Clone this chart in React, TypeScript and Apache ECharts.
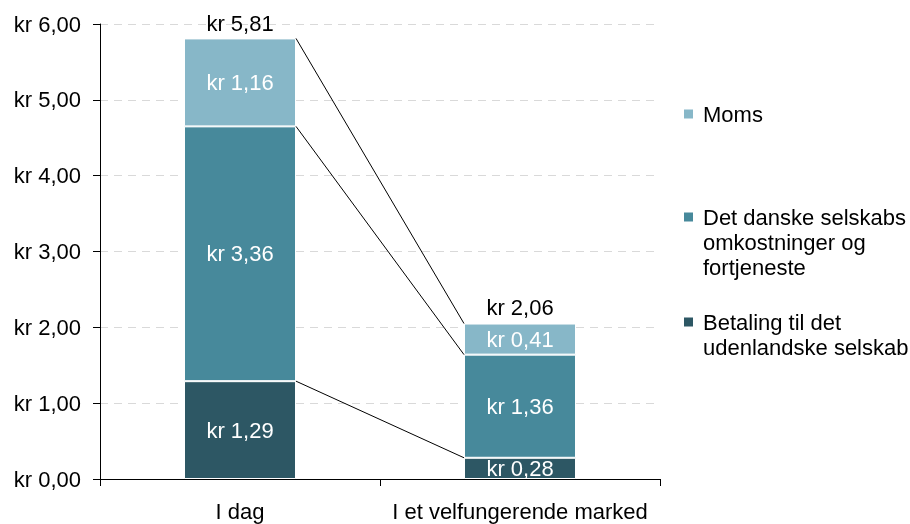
import React, { useEffect, useRef } from "react";
import * as echarts from "echarts";

const categories = ["I dag", "I et velfungerende marked"];
const seriesNames = [
  "Betaling til det udenlandske selskab",
  "Det danske selskabs omkostninger og fortjeneste",
  "Moms",
];
const legendLabels = [
  "Betaling til det\nudenlandske selskab",
  "Det danske selskabs\nomkostninger og\nfortjeneste",
  "Moms",
];
const foreignPayment = [1.29, 0.28];
const danishCosts = [3.36, 1.36];
const vat = [1.16, 0.41];
const totals = [5.81, 2.06];
const yTicks = { min: 0, max: 6, interval: 1 };

const colors = ["#2d5764", "#47899b", "#87b7c8"];
const FONT = "'Liberation Sans', Arial, sans-serif";
const FS = 22;
const LH = 25;

const fmt = (v: number) => "kr " + v.toFixed(2).replace(".", ",");

export default function App() {
  const ref = useRef<HTMLDivElement>(null);
  useEffect(() => {
    if (!ref.current) return;
    const chart = echarts.init(ref.current, undefined, { renderer: "svg" });
    const values = [foreignPayment, danishCosts, vat];
    const connectors: number[][] = [];
    let c0 = 0;
    let c1 = 0;
    values.forEach((arr) => {
      c0 += arr[0];
      c1 += arr[1];
      connectors.push([0, c0, c1]);
    });

    const barSeries = values.map((arr, i) => ({
      name: seriesNames[i],
      type: "bar",
      stack: "total",
      barWidth: "40%",
      data: arr,
      itemStyle: { color: colors[i], borderColor: "#ffffff", borderWidth: 1 },
      label: {
        show: true,
        position: "inside",
        color: "#ffffff",
        fontSize: FS,
        fontFamily: FONT,
        formatter: (p: any) => fmt(p.value),
      },
      z: 2,
    }));

    const legendTops = [284.5, 154.5, 101.5];
    const legends = seriesNames.map((name, i) => {
      const lines = legendLabels[i].split("\n").length;
      // prepend blank lines so that the first line is centred on the icon
      const text = "\n".repeat(lines - 1) + legendLabels[i];
      return {
        orient: "vertical",
        left: 682,
        top: legendTops[i],
        padding: 0,
        itemWidth: 11,
        itemHeight: 11,
        icon: "rect",
        selectedMode: false,
        data: [name],
        formatter: () => text,
        textStyle: {
          fontSize: FS,
          fontFamily: FONT,
          color: "#000",
          lineHeight: LH,
          padding: [0, 0, 0, 4],
        },
      };
    });

    chart.setOption({
      animation: false,
      color: colors,
      grid: { left: 100, right: 250, top: 24, bottom: 45, containLabel: false },
      legend: legends,
      xAxis: {
        type: "category",
        data: categories,
        axisLine: { lineStyle: { color: "#000", width: 1 } },
        axisTick: { show: true, length: 7, lineStyle: { color: "#000" } },
        axisLabel: {
          color: "#000",
          fontSize: FS,
          fontFamily: FONT,
          margin: 21,
          interval: 0,
        },
      },
      yAxis: {
        type: "value",
        min: yTicks.min,
        max: yTicks.max,
        interval: yTicks.interval,
        axisLine: { show: true, lineStyle: { color: "#000", width: 1 } },
        axisTick: { show: true, length: 7, lineStyle: { color: "#000" } },
        axisLabel: {
          color: "#000",
          fontSize: FS,
          fontFamily: FONT,
          margin: 19,
          formatter: (v: number) => fmt(v),
        },
        splitLine: { show: true, lineStyle: { color: "#d9d9d9", type: [8, 6] } },
      },
      series: [
        ...barSeries,
        {
          type: "custom",
          name: "connectors",
          encode: { x: 0, y: [1, 2] },
          data: connectors,
          z: 3,
          silent: true,
          renderItem: (params: any, api: any) => {
            const p0 = api.coord([0, api.value(1)]);
            const p1 = api.coord([1, api.value(2)]);
            const half = (api.size([1, 0])[0] * 0.4) / 2;
            return {
              type: "line",
              shape: { x1: p0[0] + half, y1: p0[1], x2: p1[0] - half, y2: p1[1] },
              style: { stroke: "#000", lineWidth: 1 },
            };
          },
        },
        {
          type: "scatter",
          name: "totals",
          data: totals,
          symbolSize: 0,
          silent: true,
          itemStyle: { opacity: 1 },
          label: {
            show: true,
            position: "top",
            distance: 4,
            color: "#000",
            fontSize: FS,
            fontFamily: FONT,
            formatter: (p: any) => fmt(p.value),
          },
        },
      ],
    });
    return () => chart.dispose();
  }, []);
  return (
    <div
      ref={ref}
      style={{ position: "fixed", left: 0, top: 0, width: 910, height: 524 }}
    />
  );
}
